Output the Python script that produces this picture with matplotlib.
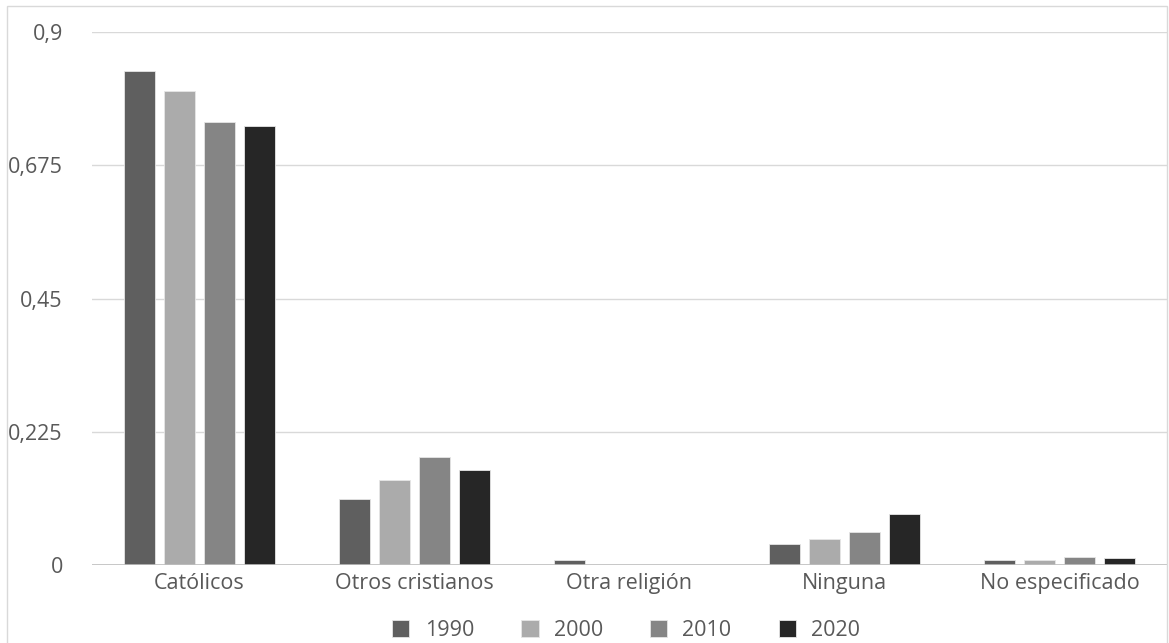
import matplotlib.pyplot as plt
from matplotlib.patches import Rectangle
import numpy as np

plt.rcParams['font.family'] = ['Open Sans', 'DejaVu Sans']

categorias = ['Católicos', 'Otros cristianos', 'Otra religión', 'Ninguna', 'No especificado']
anios = ['1990', '2000', '2010', '2020']
v1990 = [0.834, 0.111, 0.008, 0.036, 0.008]
v2000 = [0.800, 0.143, 0.0, 0.044, 0.008]
v2010 = [0.748, 0.182, 0.0, 0.056, 0.013]
v2020 = [0.741, 0.160, 0.0, 0.086, 0.011]
colores = ['#5f5f5f', '#ababab', '#858585', '#262626']
yticks = [0, 0.225, 0.45, 0.675, 0.9]
ylabels = ['0', '0,225', '0,45', '0,675', '0,9']

fig = plt.figure(figsize=(11.69, 6.43), dpi=100)
ax = fig.add_axes([92/1169, 78/643, 1075/1169, 533/643])

x = np.arange(len(categorias))
ancho = 0.145
paso = 0.186
for i, (serie, col) in enumerate(zip([v1990, v2000, v2010, v2020], colores)):
    ax.bar(x + (i - 1.5) * paso, serie, ancho, color=col, label=anios[i],
           edgecolor='#e6e6e6', linewidth=0.6, zorder=3)

ax.set_xlim(-0.5, len(categorias) - 0.5)
ax.set_ylim(0, 0.9)
ax.set_yticks(yticks)
ax.set_yticklabels(ylabels)
ax.set_xticks(x)
ax.set_xticklabels(categorias)
ax.grid(axis='y', color='#d9d9d9', linewidth=1, zorder=0)
ax.axhline(0, color='#bfbfbf', linewidth=1.2, zorder=4)
for s in ax.spines.values():
    s.set_visible(False)
ax.tick_params(axis='both', length=0, labelsize=15.5, colors='#595959')
ax.tick_params(axis='y', pad=21)
ax.tick_params(axis='x', pad=6)

leg = ax.legend(loc='upper center', bbox_to_anchor=(0.497, -0.075), ncol=4, frameon=False,
                fontsize=15.5, handlelength=0.8, handleheight=0.8, columnspacing=2.2,
                handletextpad=0.7, borderpad=0.2)
for t in leg.get_texts():
    t.set_color('#595959')

fig.patches.append(Rectangle((7/1169, -5/643), 1160/1169, 642/643, transform=fig.transFigure,
                             fill=False, edgecolor='#d9d9d9', linewidth=1))

fig.savefig('out.png', dpi=100)
